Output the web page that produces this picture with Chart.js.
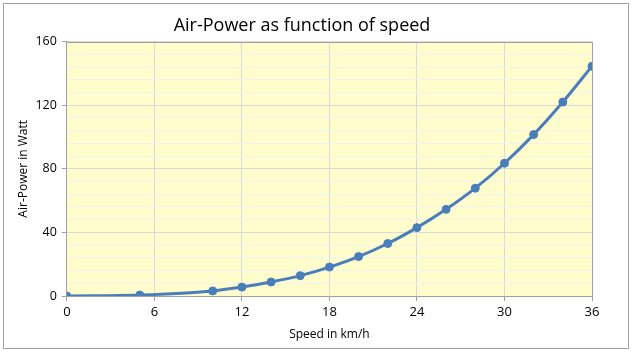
<!DOCTYPE html>
<html>
<head>
<meta charset="utf-8">
<script src="https://cdn.jsdelivr.net/npm/chart.js@4/dist/chart.umd.min.js"></script>
<style>
  body { margin: 0; background: #fff; }
  #wrap { width: 632px; height: 352px; position: relative; }
</style>
</head>
<body>
<div id="wrap"><canvas id="airChart" width="632" height="352"></canvas></div>
<script>
// speed in km/h and power in Watt
var speeds = [0, 5, 10, 12, 14, 16, 18, 20, 22, 24, 26, 28, 30, 32, 34, 36];
var power  = [0, 0.6, 3.2, 5.6, 8.8, 12.8, 18.2, 24.8, 33, 43, 54.5, 67.8, 83.5, 101.5, 122, 144.5];
var xTicks = [0, 6, 12, 18, 24, 30, 36];
var yTicks = [0, 40, 80, 120, 160];

var points = [];
for (var i = 0; i < speeds.length; i++) {
  points.push({ x: speeds[i], y: power[i] });
}

// yellow plot area, its grey edge and the outer frame
var framePlugin = {
  id: 'frame',
  beforeDraw: function(chart) {
    var c = chart.ctx, a = chart.chartArea;
    c.save();
    c.fillStyle = '#fff';
    c.fillRect(0, 0, chart.width, chart.height);
    c.fillStyle = '#FFFDCC';
    c.fillRect(a.left, a.top, a.right - a.left, a.bottom - a.top);
    c.strokeStyle = '#A0A0A0';
    c.lineWidth = 1;
    c.strokeRect(3.5, 3.5, chart.width - 7, chart.height - 7);
    c.restore();
  },
  beforeDatasetsDraw: function(chart) {
    var c = chart.ctx, a = chart.chartArea;
    c.save();
    c.strokeStyle = '#A0A0A0';
    c.lineWidth = 1;
    c.beginPath();
    c.moveTo(a.left, Math.round(a.top) + 0.5);
    c.lineTo(Math.round(a.right) + 0.5, Math.round(a.top) + 0.5);
    c.lineTo(Math.round(a.right) + 0.5, a.bottom);
    c.stroke();
    c.restore();
  }
};

var ctx = document.getElementById('airChart');
var airChart = new Chart(ctx, {
  type: 'line',
  data: {
    datasets: [{
      label: 'Air-Power',
      data: points,
      borderColor: '#4A7EBB',
      backgroundColor: '#4A7EBB',
      borderWidth: 3,
      pointRadius: 4,
      pointBorderWidth: 1,
      pointHoverRadius: 4,
      cubicInterpolationMode: 'monotone',
      fill: false
    }]
  },
  plugins: [framePlugin],
  options: {
    responsive: false,
    animation: false,
    layout: { padding: { left: 12, right: 40, top: 4, bottom: 6 } },
    plugins: {
      legend: { display: false },
      tooltip: { enabled: false },
      title: {
        display: true,
        text: 'Air-Power as function of speed',
        color: '#000',
        font: { family: 'Open Sans', size: 18, weight: 'normal' },
        padding: { top: 11, bottom: 5 }
      }
    },
    scales: {
      x: {
        type: 'linear',
        min: 0,
        max: 36,
        afterBuildTicks: function(axis) {
          axis.ticks = xTicks.map(function(v) { return { value: v }; });
        },
        grid: { color: '#D9D9D9', tickColor: '#A0A0A0', tickLength: 5 },
        border: { color: '#A0A0A0' },
        ticks: { color: '#000', font: { family: 'Open Sans', size: 13 }, padding: 3, maxRotation: 0 },
        title: {
          display: true,
          text: 'Speed in km/h',
          color: '#000',
          font: { family: 'Open Sans', size: 12 },
          padding: { top: 5 }
        }
      },
      y: {
        min: 0,
        max: 160,
        ticks: {
          stepSize: 8,
          autoSkip: false,
          color: '#000',
          font: { family: 'Open Sans', size: 12.5 },
          padding: 5,
          callback: function(v) { return yTicks.indexOf(v) >= 0 ? v : ''; }
        },
        grid: {
          color: function(c) { return c.tick && c.tick.value % 40 === 0 ? '#D9D9D9' : '#F2F2F2'; },
          tickColor: function(c) { return c.tick && c.tick.value % 40 === 0 ? '#A0A0A0' : 'rgba(0,0,0,0)'; },
          tickLength: 5
        },
        border: { color: '#A0A0A0' },
        title: {
          display: true,
          text: 'Air-Power in Watt',
          color: '#000',
          font: { family: 'Open Sans', size: 12 },
          padding: { top: 4, bottom: 0 }
        }
      }
    }
  }
});
</script>
</body>
</html>
